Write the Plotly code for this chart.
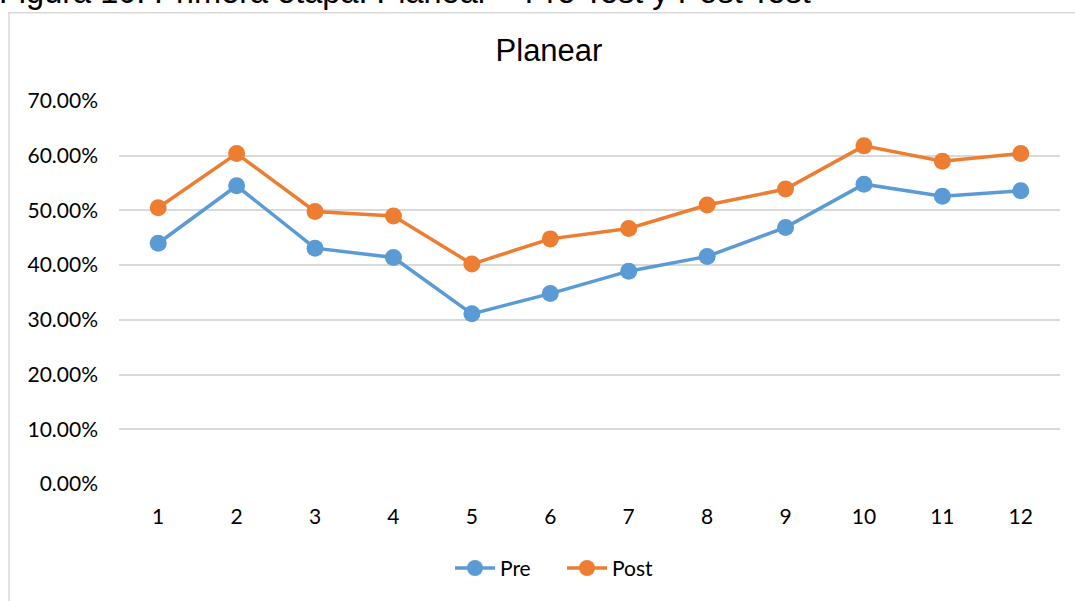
import plotly.graph_objects as go

categories = [1, 2, 3, 4, 5, 6, 7, 8, 9, 10, 11, 12]
pre_values = [0.440, 0.545, 0.431, 0.414, 0.311, 0.348, 0.389, 0.416, 0.469, 0.548, 0.526, 0.536]
post_values = [0.505, 0.604, 0.498, 0.490, 0.402, 0.448, 0.467, 0.510, 0.539, 0.618, 0.590, 0.604]
y_ticks = [0, 0.1, 0.2, 0.3, 0.4, 0.5, 0.6, 0.7]

BLUE = "#5B9BD5"
ORANGE = "#ED7D31"
GRID = "#D9D9D9"
FONT = "Lato, 'Open Sans', sans-serif"

fig = go.Figure()
fig.add_trace(go.Scatter(
    x=categories, y=pre_values, name="Pre", mode="lines+markers",
    line=dict(color=BLUE, width=3.5),
    marker=dict(color=BLUE, size=17),
))
fig.add_trace(go.Scatter(
    x=categories, y=post_values, name="Post", mode="lines+markers",
    line=dict(color=ORANGE, width=3.5),
    marker=dict(color=ORANGE, size=17),
))

L, R, T, B = 119, 15, 101, 114
W, H = 1075, 601
pw = W - L - R
ph = H - T - B

def px_x(X):
    return (X - L) / pw

def px_y(Y):
    return (H - B - Y) / ph

fig.update_layout(
    width=W, height=H,
    margin=dict(l=L, r=R, t=T, b=B, pad=0),
    paper_bgcolor="white", plot_bgcolor="white",
    font=dict(family=FONT, color="#000000"),
    title=dict(text="Planear", x=549 / W, xanchor="center", y=1 - 50 / H, yanchor="middle",
               xref="container", yref="container",
               font=dict(family="'Liberation Sans', Arial, sans-serif", size=31, color="#000000")),
    showlegend=True,
    legend=dict(orientation="h", x=px_x(562), xanchor="center", y=px_y(572), yanchor="middle",
                font=dict(family=FONT, size=21, color="#000000"), bgcolor="rgba(0,0,0,0)",
                itemwidth=40, entrywidth=57, entrywidthmode="pixels"),
    xaxis=dict(range=[0.5, 12.5], tickvals=categories, ticktext=[str(c) for c in categories],
               showgrid=False, zeroline=False, showline=False, ticks="",
               tickfont=dict(family=FONT, size=21, color="#000000"), ticklabelstandoff=18),
    yaxis=dict(range=[0, 0.7], tickvals=y_ticks, tickformat=".2%",
               showgrid=True, gridcolor=GRID, gridwidth=1.5, zeroline=False, showline=False, ticks="",
               tickfont=dict(family=FONT, size=21, color="#000000"), ticklabelstandoff=20),
)

# chart frame (clipped at right and bottom)
fig.add_shape(type="rect", xref="paper", yref="paper",
              x0=px_x(9), x1=px_x(1085), y0=px_y(615), y1=px_y(12),
              line=dict(color=GRID, width=1.5), fillcolor="rgba(0,0,0,0)", layer="below")

# clipped figure caption at the very top
fig.add_annotation(text="Figura 10. Primera etapa: Planear \u2013 Pre Test y Post Test",
                   xref="paper", yref="paper", x=px_x(-3), y=px_y(-9), xanchor="left", yanchor="middle",
                   showarrow=False,
                   font=dict(family="'Liberation Sans', Arial, sans-serif", size=32.5, color="#000000"))

fig.write_html("out.html", config={"displayModeBar": False},
               post_script="document.body.style.margin='0';")
